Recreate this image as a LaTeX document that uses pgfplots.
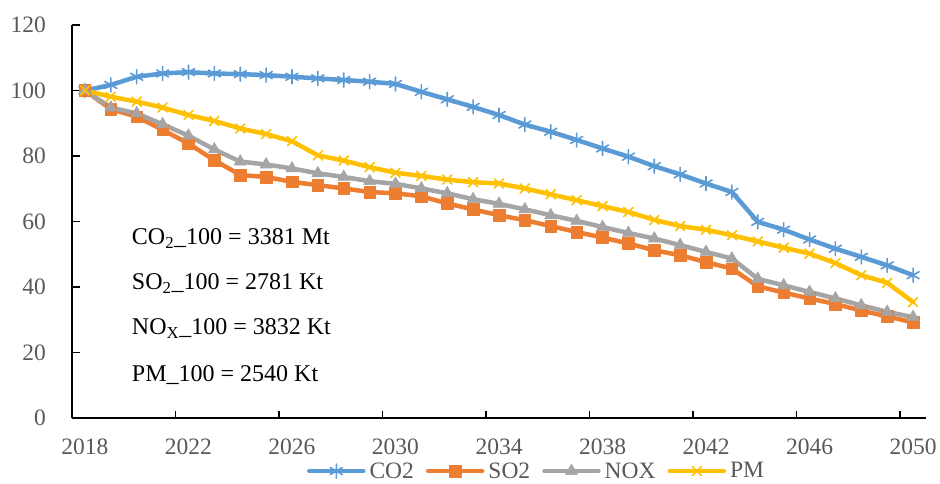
\documentclass[border=0pt]{standalone}
\usepackage{fontspec}
\setmainfont{Liberation Serif}
\usepackage{pgfplots}
\usepackage{pgfplotstable}
\pgfplotsset{compat=1.18}
\definecolor{cCO}{HTML}{5B9BD5}
\definecolor{cSO}{HTML}{ED7D31}
\definecolor{cNO}{HTML}{A5A5A5}
\definecolor{cPM}{HTML}{FFC000}
\definecolor{tgray}{HTML}{595959}
\pgfplotstableread{
x CO2 SO2 NOX PM
0 100 100 100 100
1 101.7 94.3 94.8 98.1
2 104.2 92.0 93.0 96.6
3 105.2 88.0 89.7 94.8
4 105.6 83.8 86.2 92.5
5 105.2 78.7 82.0 90.7
6 105.0 74.2 78.3 88.4
7 104.7 73.6 77.4 86.7
8 104.2 72.1 76.2 84.5
9 103.7 71.1 74.7 80.2
10 103.2 70.1 73.6 78.6
11 102.7 69.0 72.3 76.6
12 102.0 68.6 71.5 74.9
13 99.6 67.7 70.1 73.9
14 97.3 65.5 68.6 72.8
15 95.0 63.7 66.8 72.0
16 92.5 61.9 65.4 71.6
17 89.6 60.4 63.7 70.1
18 87.4 58.6 61.9 68.3
19 84.9 56.8 60.2 66.5
20 82.3 55.1 58.3 64.7
21 79.8 53.3 56.5 62.9
22 76.9 51.2 54.8 60.5
23 74.4 49.7 52.8 58.6
24 71.6 47.6 50.7 57.5
25 69.0 45.6 48.7 55.8
26 59.9 40.2 42.5 53.9
27 57.5 38.3 40.5 52.0
28 54.5 36.5 38.5 50.2
29 51.7 34.8 36.5 47.3
30 49.2 32.8 34.4 43.6
31 46.6 31.0 32.4 41.3
32 43.6 29.2 30.8 35.4
}\datatable
\begin{document}
\begin{tikzpicture}
\useasboundingbox (0,0) rectangle (940pt,483pt);
\begin{axis}[
  at={(72pt,65pt)}, anchor=south west,
  scale only axis, width=854pt, height=393pt,
  xmin=-0.5, xmax=32.5, ymin=0, ymax=120,
  axis x line*=bottom, axis y line*=left,
  axis line style={line width=1.3pt, black},
  tick align=inside,
  tick style={line width=1.3pt, black},
  xtick={0,4,...,32},
  xticklabels={2018,2022,2026,2030,2034,2038,2042,2046,2050},
  major x tick style={draw=none},
  minor xtick={-0.5,3.5,...,31.5},
  minor tick length=7pt,
  ytick={0,20,...,120},
  major tick length=8pt,
  /pgf/number format/assume math mode=true,
  every tick label/.append style={font=\fontsize{23.5}{27}\selectfont, text=tgray},
  yticklabel style={inner sep=0pt, xshift=-26pt},
  xticklabel style={inner sep=0pt, yshift=-21pt},
  clip=false,
  legend columns=4,
  legend style={at={(0.544,-0.135)}, anchor=center, draw=none, fill=none,
    font=\fontsize{23.5}{27}\selectfont, text=tgray,
    /tikz/every odd column/.append style={column sep=2pt},
    /tikz/every even column/.append style={column sep=10pt}},
  legend image code/.code={\draw[mark repeat=2,mark phase=2] plot coordinates {(0pt,0pt)(27pt,0pt)(54pt,0pt)};},
  every axis plot/.append style={line width=4.5pt, line cap=round, line join=round},
]
\addplot[cCO, mark=asterisk, mark size=7pt, mark options={solid, line width=1.6pt}] table[x=x,y=CO2] {\datatable};
\addlegendentry{CO2}
\addplot[cSO, mark=square*, mark size=5.8pt, mark options={solid, line width=0.5pt, fill=cSO}] table[x=x,y=SO2] {\datatable};
\addlegendentry{SO2}
\addplot[cNO, mark=triangle*, mark size=7pt, mark options={solid, line width=0.5pt, fill=cNO}] table[x=x,y=NOX] {\datatable};
\addlegendentry{NOX}
\addplot[cPM, mark=x, mark size=6.5pt, mark options={solid, line width=1.6pt}] table[x=x,y=PM] {\datatable};
\addlegendentry{PM}
\begin{scope}[every node/.style={anchor=west, inner sep=0pt, font=\fontsize{24}{27}\selectfont, text=black}]
\node at (axis cs:1.81,54.9) {CO\textsubscript{2}\_100 = 3381 Mt};
\node at (axis cs:1.81,41.1) {SO\textsubscript{2}\_100 = 2781 Kt};
\node at (axis cs:1.81,27.4) {NO\textsubscript{X}\_100 = 3832 Kt};
\node at (axis cs:1.81,13.0) {PM\_100 = 2540 Kt};
\end{scope}
\end{axis}
\end{tikzpicture}
\end{document}
